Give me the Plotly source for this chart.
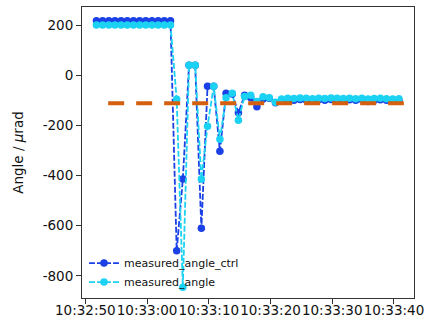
import pandas as pd
import plotly.graph_objects as go

# ---- data ----
start_time = "2024-01-01 10:32:51.8"
n_points = 50
times = pd.date_range(start=start_time, periods=n_points, freq="1s")

measured_angle_ctrl = [
    217, 217, 217, 217, 217, 217, 217, 217, 217, 217, 217, 217, 217,
    -700, -414, 40, 40, -610, -44, -44, -303, -72, -75, -150, -80,
    -90, -126, -95, -92, -110, -100, -98, -100, -97, -99, -100, -98,
    -100, -97, -99, -100, -98, -100, -97, -105, -100, -98, -100, -102, -100,
]
measured_angle = [
    200, 200, 200, 200, 200, 200, 200, 200, 200, 200, 200, 200, 200,
    -96, -845, 40, 40, -414, -203, -44, -255, -90, -72, -179, -85,
    -80, -105, -86, -90, -108, -95, -92, -93, -91, -92, -94, -92,
    -93, -91, -92, -93, -92, -94, -92, -95, -93, -92, -94, -95, -94,
]
target_times = ["2024-01-01 10:32:53.7", "2024-01-01 10:33:41.6"]
target_angle = [-112, -112]

x_range = ["2024-01-01 10:32:49.46", "2024-01-01 10:33:43.25"]
y_range = [-888, 272]
y_ticks = [200, 0, -200, -400, -600, -800]
y_tick_labels = ["200", "0", "-200", "-400", "-600", "-800"]

BLUE = "#1a40e6"
CYAN = "#1cd2f2"
ORANGE = "#d4600f"

fig = go.Figure()
fig.add_trace(go.Scatter(
    x=times, y=measured_angle_ctrl, mode="lines+markers",
    name="measured_angle_ctrl",
    line=dict(color=BLUE, width=1.8, dash="6px,2px"),
    marker=dict(color=BLUE, size=7.5),
))
fig.add_trace(go.Scatter(
    x=times, y=measured_angle, mode="lines+markers",
    name="measured_angle",
    line=dict(color=CYAN, width=1.8, dash="6px,2px"),
    marker=dict(color=CYAN, size=7.5),
))
fig.add_trace(go.Scatter(
    x=target_times, y=target_angle, mode="lines", showlegend=False,
    line=dict(color=ORANGE, width=4, dash="16px,12px"),
))

axis_common = dict(
    showgrid=False, zeroline=False, showline=True, linecolor="#333333",
    linewidth=1, mirror=True, ticks="outside", ticklen=5, tickcolor="#333333",
    tickfont=dict(family="DejaVu Sans", size=13.5, color="#111111"),
    automargin=False,
)
fig.update_xaxes(
    type="date", range=x_range, tickformat="%H:%M:%S",
    tick0="2024-01-01 10:32:50", dtick=10000, tickangle=0,
    ticklabelstandoff=-5, **axis_common,
)
fig.update_yaxes(
    range=y_range, tickvals=y_ticks, ticktext=y_tick_labels,
    title=dict(text="Angle / <i>μ</i>rad",
               font=dict(family="DejaVu Sans", size=13.5, color="#111111")),
    **axis_common,
)
fig.update_layout(
    width=429, height=327,
    margin=dict(l=82, r=15, t=7, b=29),
    paper_bgcolor="white", plot_bgcolor="white",
    legend=dict(x=0.006, y=0.005, xanchor="left", yanchor="bottom",
                bgcolor="rgba(255,255,255,0)",
                font=dict(family="DejaVu Sans", size=11, color="#111111"),
                tracegroupgap=0, itemwidth=30),
    showlegend=True,
)
fig.write_html("out.html", config={"displayModeBar": False},
               post_script="document.body.style.margin='0';")
